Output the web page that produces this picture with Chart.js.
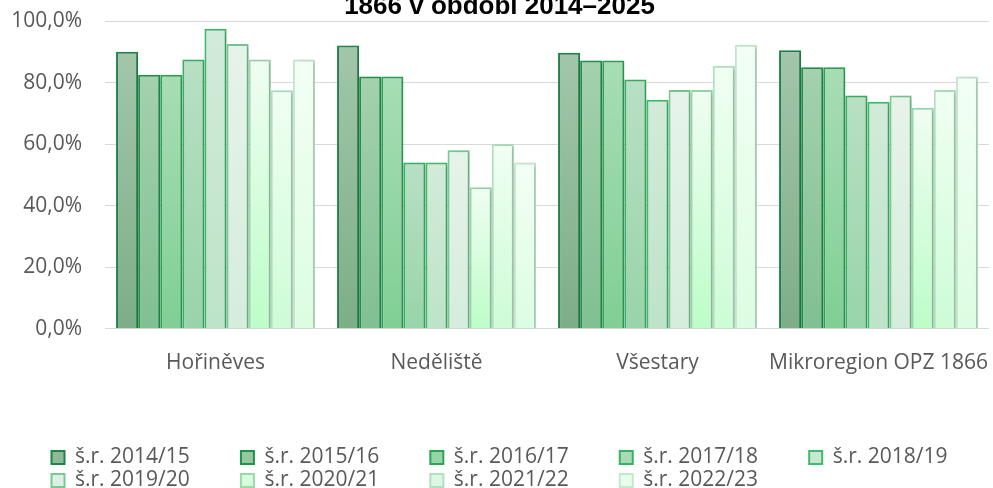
<!DOCTYPE html>
<html lang="cs">
<head>
  <meta charset="UTF-8">
  <title>Úspěšnost 2014–2023</title>
  <script src="https://cdn.jsdelivr.net/npm/chart.js"></script>
  <style>
    body { margin: 0; background: #fff; }
    #frame { width: 993px; height: 488px; overflow: hidden; position: relative; }
    #wrap { position: absolute; left: 0; top: -16px; width: 993px; height: 521px; }
  </style>
</head>
<body>
<div id="frame">
  <div id="wrap"><canvas id="myChart"></canvas></div>
</div>
<script>
  const categories = ['Hořiněves', 'Neděliště', 'Všestary', 'Mikroregion OPZ 1866'];
  const seriesLabels = ['š.r. 2014/15', 'š.r. 2015/16', 'š.r. 2016/17', 'š.r. 2017/18', 'š.r. 2018/19',
                        'š.r. 2019/20', 'š.r. 2020/21', 'š.r. 2021/22', 'š.r. 2022/23'];
  // hodnoty po obcích, jedna položka za každý školní rok
  const horineves  = [90.0, 82.5, 82.5, 87.5, 97.5, 92.5, 87.5, 77.5, 87.5];
  const nedeliste  = [92.0, 82.0, 82.0, 54.0, 54.0, 58.0, 46.0, 60.0, 54.0];
  const vsestary   = [89.7, 87.2, 87.2, 81.0, 74.4, 77.6, 77.6, 85.5, 92.3];
  const mikroregion = [90.5, 85.0, 85.0, 75.8, 73.8, 75.8, 71.8, 77.6, 82.0];
  const yTicks = [0, 20, 40, 60, 80, 100];

  // barvy: horní část přechodu, spodní část, okraj, barva v legendě
  const fillTop    = ['#a2c6aa', '#a4d1ae', '#a8ddb4', '#b8e0c4', '#d2ebd9', '#e6f3ea', '#f0fdf2', '#f0fff3', '#f3fff5'];
  const fillBottom = ['#7dae88', '#80c091', '#80cf95', '#98d4a9', '#bde3c8', '#d5eddc', '#bdfdc8', '#cdfcd6', '#dcfde2'];
  const borders    = ['#21834a', '#21914b', '#2ba457', '#36b362', '#3bbd6a', '#78c991', '#9ad9ab', '#b2dfc0', '#c4e8cf'];
  const legendFill = ['#8fba98', '#92c9a0', '#94d6a5', '#a8dab7', '#c8e7d0', '#def0e3', '#d6fddd', '#def7e4', '#e8fdec'];

  const rows = [horineves, nedeliste, vsestary, mikroregion];
  const FONT = '"Open Sans", sans-serif';

  function barGradient(i) {
    return function(ctx) {
      const chart = ctx.chart;
      if (!chart.chartArea || ctx.parsed === undefined) return fillBottom[i];
      const y = chart.scales.y;
      const top = y.getPixelForValue(ctx.parsed.y);
      const bottom = y.getPixelForValue(0);
      if (!isFinite(top) || !isFinite(bottom) || top === bottom) return fillBottom[i];
      const g = chart.ctx.createLinearGradient(0, top, 0, bottom);
      g.addColorStop(0, fillTop[i]);
      g.addColorStop(1, fillBottom[i]);
      return g;
    };
  }

  const datasets = seriesLabels.map((label, i) => ({
    label: label,
    data: rows.map(r => r[i]),
    backgroundColor: barGradient(i),
    borderColor: borders[i],
    borderWidth: 2,
    categoryPercentage: 0.9,
    barPercentage: 1.0
  }));

  const PAD = '\u00a0'.repeat(9);

  const barShadow = {
    id: 'barShadow',
    beforeDatasetsDraw(chart) {
      const c = chart.ctx;
      c.save();
      c.shadowColor = 'rgba(0,0,0,0.18)';
      c.shadowBlur = 4;
      c.shadowOffsetX = 2;
      c.shadowOffsetY = 1;
    },
    afterDatasetsDraw(chart) {
      chart.ctx.restore();
    }
  };

  const ctx = document.getElementById('myChart').getContext('2d');
  new Chart(ctx, {
    type: 'bar',
    data: { labels: categories, datasets: datasets },
    plugins: [barShadow],
    options: {
      responsive: true,
      maintainAspectRatio: false,
      animation: false,
      layout: { padding: { left: 10, right: 4, top: 0, bottom: 4 } },
      plugins: {
        title: {
          display: true,
          text: '1866 v období 2014–2025',
          color: '#000',
          font: { family: '"Liberation Sans", Arial, sans-serif', size: 26, weight: 'bold', lineHeight: 1 },
          padding: { top: 10, bottom: 1 }
        },
        legend: {
          position: 'bottom',
          onClick: () => {},
          labels: {
            color: '#595959',
            font: { family: FONT, size: 21 },
            boxWidth: 13,
            boxHeight: 13,
            padding: 2,
            generateLabels(chart) {
              const items = chart.data.datasets.map((ds, i) => ({
                text: ds.label + (i % 5 === 4 ? '' : PAD),
                fillStyle: legendFill[i],
                strokeStyle: borders[i],
                lineWidth: 2,
                fontColor: '#595959',
                hidden: false,
                datasetIndex: i
              }));
              // prázdná položka, aby druhý řádek začínal ve stejném sloupci
              items.push({
                text: seriesLabels[4],
                fillStyle: 'rgba(0,0,0,0)',
                strokeStyle: 'rgba(0,0,0,0)',
                lineWidth: 0,
                fontColor: 'rgba(0,0,0,0)',
                hidden: false,
                datasetIndex: -1
              });
              return items;
            }
          }
        },
        tooltip: { enabled: false }
      },
      scales: {
        x: {
          grid: { display: true, drawOnChartArea: false, drawTicks: true, tickLength: 22, color: 'rgba(0,0,0,0)' },
          border: { display: false },
          ticks: {
            color: '#595959',
            font: { family: FONT, size: 21 },
            padding: 0,
            autoSkip: false,
            maxRotation: 0
          },
          afterFit(scale) { scale.height += 69; }
        },
        y: {
          min: 0,
          max: 100,
          afterBuildTicks(scale) { scale.ticks = yTicks.map(v => ({ value: v })); },
          afterFit(scale) { scale.width = 95; },
          grid: { color: '#d9d9d9', lineWidth: 1, drawTicks: false },
          border: { display: false },
          ticks: {
            color: '#595959',
            font: { family: FONT, size: 21 },
            padding: 23,
            callback: v => v.toFixed(1).replace('.', ',') + '%'
          }
        }
      }
    }
  });
</script>
</body>
</html>
